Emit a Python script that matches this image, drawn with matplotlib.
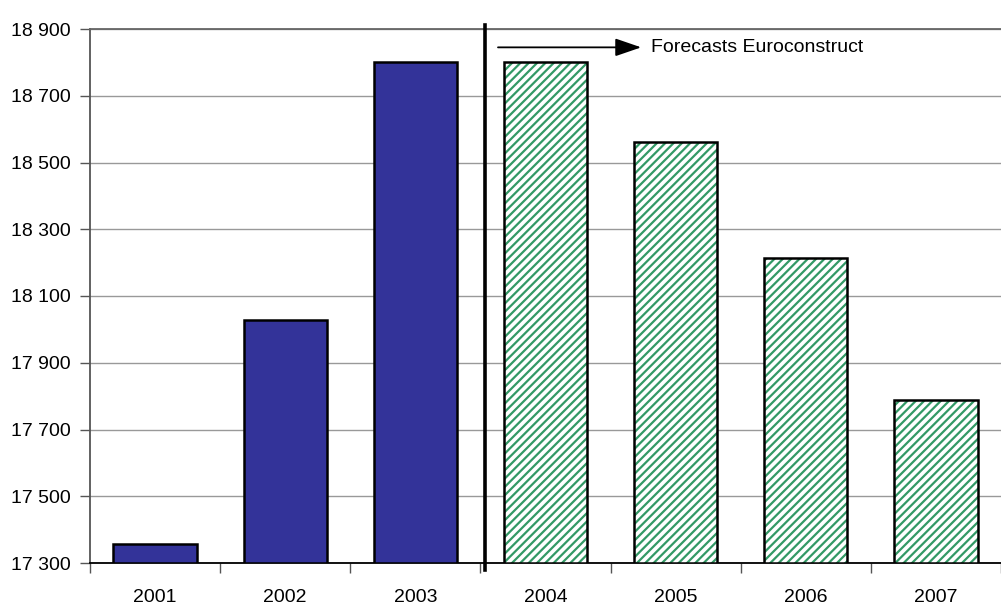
import matplotlib
matplotlib.use("Agg")
import matplotlib.pyplot as plt
import numpy as np

years = ["2001", "2002", "2003", "2004", "2005", "2006", "2007"]
values = [17357, 18027, 18800, 18800, 18560, 18213, 17788]
n_actual = 3  # first three years are observed, the rest are forecasts
y_ticks = [17300, 17500, 17700, 17900, 18100, 18300, 18500, 18700, 18900]
forecast_label = "Forecasts Euroconstruct"

plt.rcParams["font.family"] = ["Liberation Sans", "DejaVu Sans"]
plt.rcParams["hatch.linewidth"] = 1.6
FS = 14

fig = plt.figure(figsize=(10.01, 6.07), dpi=100)
ax = fig.add_axes([90 / 1001, 44 / 607, 911 / 1001, 534 / 607])

x = np.arange(len(years))
ymin = y_ticks[0]
heights = [v - ymin for v in values]
bar_w = 0.64

ax.bar(x[:n_actual], heights[:n_actual], bottom=ymin, width=bar_w,
       color="#333399", edgecolor="black", linewidth=1.8, zorder=3)
# hatched forecast bars: hatch takes the edge colour, outline drawn separately
ax.bar(x[n_actual:], heights[n_actual:], bottom=ymin, width=bar_w,
       color="white", edgecolor="#339966", linewidth=0, hatch="////", zorder=3)
ax.bar(x[n_actual:], heights[n_actual:], bottom=ymin, width=bar_w,
       fill=False, edgecolor="black", linewidth=1.8, zorder=4)

ax.set_xlim(-0.5, len(years) - 0.5)
ax.set_ylim(y_ticks[0], y_ticks[-1])
ax.set_yticks(y_ticks)
ax.set_yticklabels([f"{t:,}".replace(",", " ") for t in y_ticks], fontsize=FS)
ax.set_xticks(x)
ax.set_xticklabels(years, fontsize=FS)
ax.set_xticks(np.arange(len(years) + 1) - 0.5, minor=True)
ax.tick_params(axis="x", which="major", length=0, pad=19)
ax.tick_params(axis="x", which="minor", length=7, width=1, color="#555555")
ax.tick_params(axis="y", length=7, width=1, color="#555555", pad=7)

ax.yaxis.grid(True, color="#999999", linewidth=1, zorder=0)
ax.set_axisbelow(True)
ax.spines["right"].set_visible(False)
ax.spines["top"].set_color("#666666")
ax.spines["top"].set_linewidth(1.3)
ax.spines["left"].set_color("#555555")
ax.spines["left"].set_linewidth(1.3)
ax.spines["bottom"].set_color("black")
ax.spines["bottom"].set_linewidth(1.3)

# separator between observed data and forecasts
sep = n_actual - 0.5 + 0.035
ax.plot([sep, sep], [y_ticks[-1] + 12, ymin - 22], color="black", linewidth=2.6,
        clip_on=False, zorder=5)

# forecast arrow and label
ax.annotate("", xy=(sep + 1.2, 18845), xytext=(sep + 0.1, 18845),
            arrowprops=dict(arrowstyle="-|>,head_length=1.6,head_width=0.55",
                            color="black", linewidth=1.3, shrinkA=0, shrinkB=0),
            zorder=5)
ax.text(sep + 1.275, 18845, forecast_label, fontsize=FS, va="center", ha="left",
        zorder=5)

fig.savefig("out.png", dpi=100)
